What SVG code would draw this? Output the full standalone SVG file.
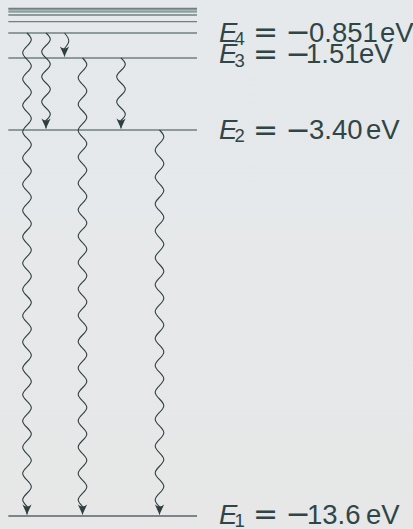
<svg xmlns="http://www.w3.org/2000/svg" width="413" height="529" viewBox="0 0 413 529">
<defs>
<linearGradient id="bg" x1="0" y1="0" x2="0" y2="1">
<stop offset="0" stop-color="#e5e9ec"/>
<stop offset="1" stop-color="#e7e7e7"/>
</linearGradient>
<marker id="ah" viewBox="-12 -6 14 12" refX="0" refY="0" markerWidth="14" markerHeight="12" markerUnits="userSpaceOnUse" orient="auto">
<path d="M0,0 L-10,-4.6 Q-6,0 -10,4.6 Z" fill="#2f3f40"/>
</marker>
</defs>
<style>
.lvl{stroke:#6f8080;stroke-width:1.3;fill:none}
.lvl1{stroke:#566667;stroke-width:1.4}
.wave{stroke:#2f3f40;stroke-width:1.1;fill:none;marker-end:url(#ah)}
.lbl{font-family:"Liberation Sans",Arial,sans-serif;font-size:27.5px;fill:#2f4546}
.it{font-style:italic}
.sub{font-size:18.5px}
.op{font-family:"DejaVu Sans",sans-serif;font-size:30px}
</style>
<rect width="413" height="529" fill="url(#bg)"/>
<g id="levels">
<line class="lvl" x1="8.3" y1="8.4" x2="197" y2="8.4"/>
<line class="lvl" x1="8.3" y1="9.9" x2="197" y2="9.9"/>
<line class="lvl" x1="8.3" y1="11.8" x2="197" y2="11.8"/>
<line class="lvl" x1="8.3" y1="15" x2="197" y2="15"/>
<line class="lvl" x1="8.3" y1="21.7" x2="197" y2="21.7"/>
<line id="E4" class="lvl" x1="8.3" y1="33" x2="197" y2="33"/>
<line id="E3" class="lvl" x1="8.3" y1="58" x2="197" y2="58"/>
<line id="E2" class="lvl" x1="8.3" y1="130" x2="197" y2="130"/>
<line id="E1" class="lvl lvl1" x1="8.3" y1="516" x2="197" y2="516"/>
</g>
<g id="connectors">
<path id="t41" class="wave" d="M27,33 c5.73,5.58 5.73,7.57 0,13.15 s-5.73,7.57 0,13.15 s5.73,7.57 0,13.15 s-5.73,7.57 0,13.15 s5.73,7.57 0,13.15 s-5.73,7.57 0,13.15 s5.73,7.57 0,13.15 s-5.73,7.57 0,13.15 s5.73,7.57 0,13.15 s-5.73,7.57 0,13.15 s5.73,7.57 0,13.15 s-5.73,7.57 0,13.15 s5.73,7.57 0,13.15 s-5.73,7.57 0,13.15 s5.73,7.57 0,13.15 s-5.73,7.57 0,13.15 s5.73,7.57 0,13.15 s-5.73,7.57 0,13.15 s5.73,7.57 0,13.15 s-5.73,7.57 0,13.15 s5.73,7.57 0,13.15 s-5.73,7.57 0,13.15 s5.73,7.57 0,13.15 s-5.73,7.57 0,13.15 s5.73,7.57 0,13.15 s-5.73,7.57 0,13.15 s5.73,7.57 0,13.15 s-5.73,7.57 0,13.15 s5.73,7.57 0,13.15 s-5.73,7.57 0,13.15 s5.73,7.57 0,13.15 s-5.73,7.57 0,13.15 s5.73,7.57 0,13.15 s-5.73,7.57 0,13.15 s5.73,7.57 0,13.15 s-5.73,7.57 0,13.15 l0,8"/>
<path id="t42" class="wave" d="M46,33 c5.73,5.31 5.73,7.19 0,12.5 s-5.73,7.19 0,12.5 s5.73,7.19 0,12.5 s-5.73,7.19 0,12.5 s5.73,7.19 0,12.5 s-5.73,7.19 0,12.5 s5.73,7.19 0,12.5 l0,8"/>
<path id="t43" class="wave" d="M64.5,33 c5.73,6.58 5.73,8.92 0,15.5 l0,8"/>
<path id="t31" class="wave" d="M82.5,58 c5.73,5.6 5.73,7.59 0,13.19 s-5.73,7.59 0,13.19 s5.73,7.59 0,13.19 s-5.73,7.59 0,13.19 s5.73,7.59 0,13.19 s-5.73,7.59 0,13.19 s5.73,7.59 0,13.19 s-5.73,7.59 0,13.19 s5.73,7.59 0,13.19 s-5.73,7.59 0,13.19 s5.73,7.59 0,13.19 s-5.73,7.59 0,13.19 s5.73,7.59 0,13.19 s-5.73,7.59 0,13.19 s5.73,7.59 0,13.19 s-5.73,7.59 0,13.19 s5.73,7.59 0,13.19 s-5.73,7.59 0,13.19 s5.73,7.59 0,13.19 s-5.73,7.59 0,13.19 s5.73,7.59 0,13.19 s-5.73,7.59 0,13.19 s5.73,7.59 0,13.19 s-5.73,7.59 0,13.19 s5.73,7.59 0,13.19 s-5.73,7.59 0,13.19 s5.73,7.59 0,13.19 s-5.73,7.59 0,13.19 s5.73,7.59 0,13.19 s-5.73,7.59 0,13.19 s5.73,7.59 0,13.19 s-5.73,7.59 0,13.19 s5.73,7.59 0,13.19 s-5.73,7.59 0,13.19 l0,8"/>
<path id="t32" class="wave" d="M121,58 c5.73,5.31 5.73,7.19 0,12.5 s-5.73,7.19 0,12.5 s5.73,7.19 0,12.5 s-5.73,7.19 0,12.5 s5.73,7.19 0,12.5 l0,8"/>
<path id="t21" class="wave" d="M159.5,130 c5.73,5.71 5.73,7.74 0,13.45 s-5.73,7.74 0,13.45 s5.73,7.74 0,13.45 s-5.73,7.74 0,13.45 s5.73,7.74 0,13.45 s-5.73,7.74 0,13.45 s5.73,7.74 0,13.45 s-5.73,7.74 0,13.45 s5.73,7.74 0,13.45 s-5.73,7.74 0,13.45 s5.73,7.74 0,13.45 s-5.73,7.74 0,13.45 s5.73,7.74 0,13.45 s-5.73,7.74 0,13.45 s5.73,7.74 0,13.45 s-5.73,7.74 0,13.45 s5.73,7.74 0,13.45 s-5.73,7.74 0,13.45 s5.73,7.74 0,13.45 s-5.73,7.74 0,13.45 s5.73,7.74 0,13.45 s-5.73,7.74 0,13.45 s5.73,7.74 0,13.45 s-5.73,7.74 0,13.45 s5.73,7.74 0,13.45 s-5.73,7.74 0,13.45 s5.73,7.74 0,13.45 s-5.73,7.74 0,13.45 l0,8"/>
</g>
<g id="label-E4">
<text class="lbl" y="41.7"><tspan class="it" x="219">E</tspan><tspan class="sub" x="234.5" dy="3.3">4</tspan><tspan class="op" x="253" dy="-2.8">=</tspan><tspan class="op" x="285.5">−</tspan><tspan x="309" dy="-0.5">0.851</tspan><tspan x="380">eV</tspan></text>
</g>
<g id="label-E3">
<text class="lbl" y="63.3"><tspan class="it" x="219">E</tspan><tspan class="sub" x="234.5" dy="3.3">3</tspan><tspan class="op" x="253" dy="-2.8">=</tspan><tspan class="op" x="285.5">−</tspan><tspan x="306" dy="-0.5">1.51</tspan><tspan x="359">eV</tspan></text>
</g>
<g id="label-E2">
<text class="lbl" y="139.3"><tspan class="it" x="219">E</tspan><tspan class="sub" x="234.5" dy="3">2</tspan><tspan class="op" x="253" dy="-2.5">=</tspan><tspan class="op" x="285.5">−</tspan><tspan x="309" dy="-0.5">3.40</tspan><tspan x="366">eV</tspan></text>
</g>
<g id="label-E1">
<text class="lbl" y="523.5"><tspan class="it" x="219">E</tspan><tspan class="sub" x="234.5" dy="3">1</tspan><tspan class="op" x="253" dy="-2.5">=</tspan><tspan class="op" x="285.5">−</tspan><tspan x="307" dy="-0.5">13.6</tspan><tspan x="366">eV</tspan></text>
</g>
</svg>
